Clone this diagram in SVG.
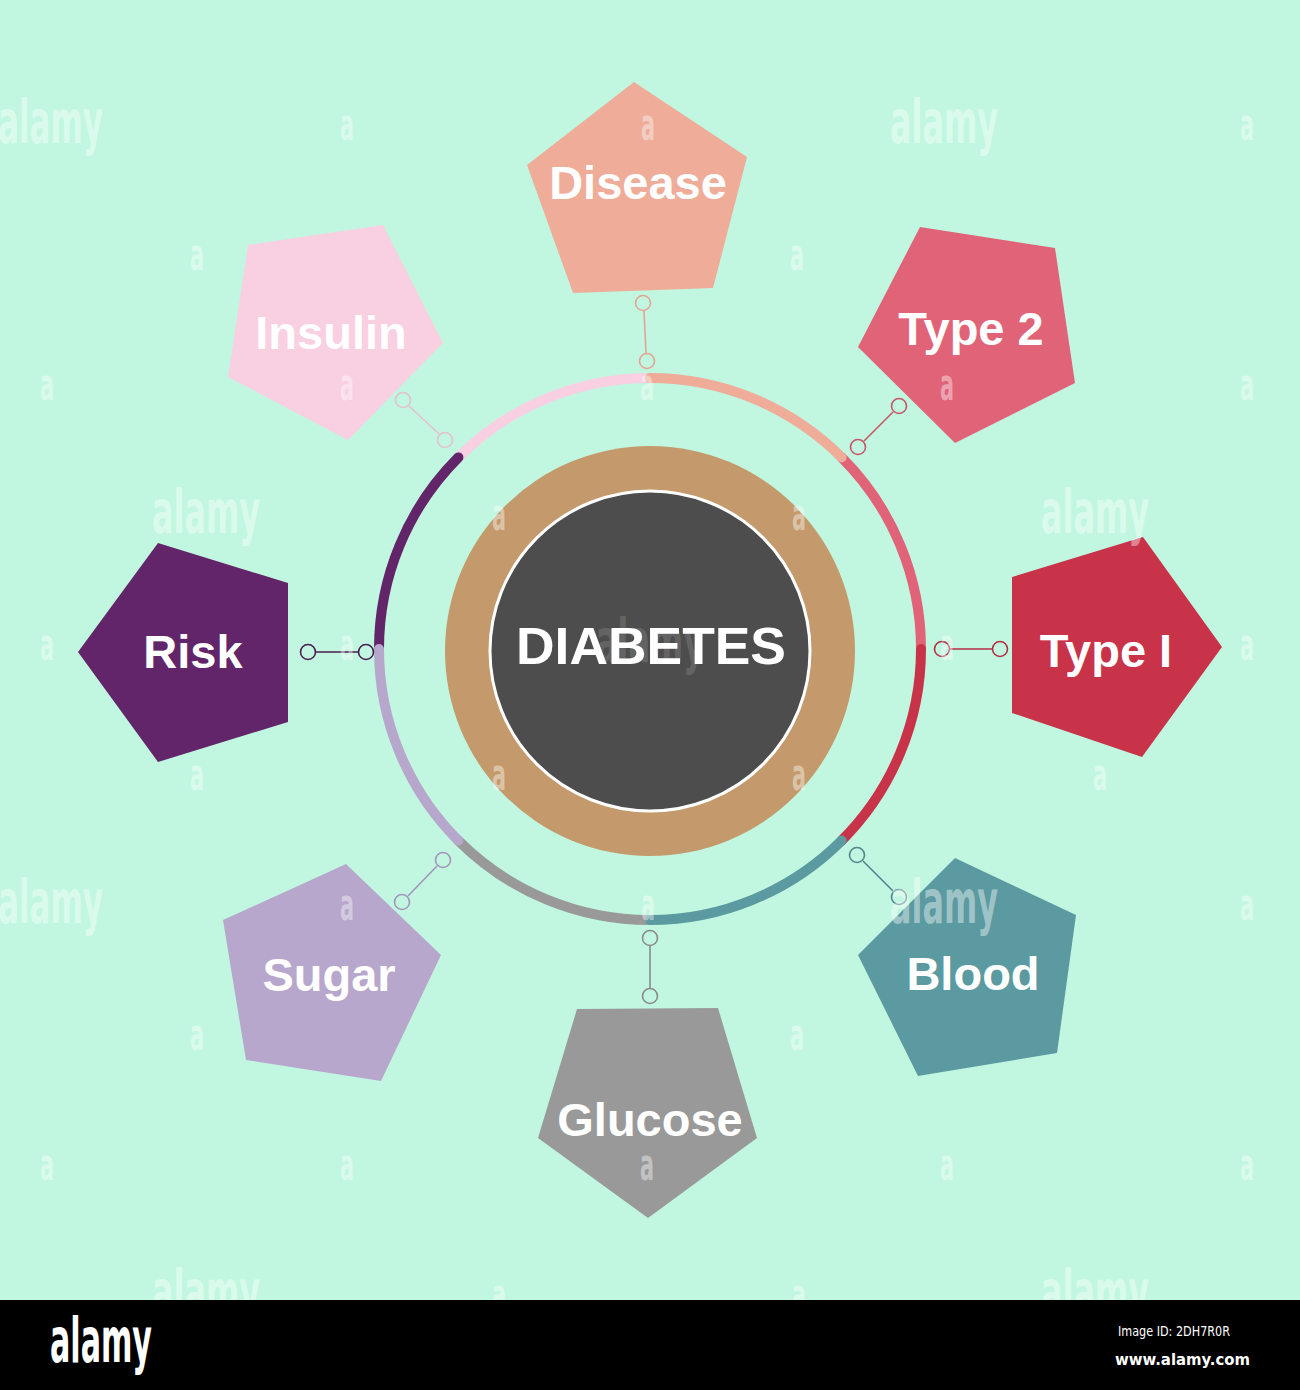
<svg xmlns="http://www.w3.org/2000/svg" width="1300" height="1390" viewBox="0 0 1300 1390">
<style>
.lbl{font-family:"Liberation Sans",Arial,sans-serif;font-weight:bold;font-size:47px;fill:#ffffff;text-anchor:middle}
.seg{fill:none;stroke-width:10;stroke-linecap:round}
.con{fill:none;stroke-width:1.6}
.wm{font-family:"Liberation Sans Narrow","DejaVu Sans Condensed",sans-serif;font-weight:bold;fill:#ffffff;fill-opacity:0.42}
.wb{font-size:60px}
.wa{font-size:44px}
</style>
<defs>
<clipPath id="top"><rect x="0" y="0" width="1300" height="1300"/></clipPath>
</defs>
<rect x="0" y="0" width="1300" height="1300" fill="#c1f7e0"/>

<g id="hub">
<circle cx="650" cy="651" r="205" fill="#c49a6c"/>
<circle cx="650" cy="651" r="160" fill="#4d4d4d" stroke="#ffffff" stroke-width="3"/>
<text x="651" y="664" font-family="Liberation Sans,Arial,sans-serif" font-weight="bold" font-size="51" fill="#ffffff" text-anchor="middle" textLength="270" lengthAdjust="spacingAndGlyphs">DIABETES</text>
</g>

<g id="ring">
<path class="seg" stroke="#f9d0e2" d="M458.4 457.4 A271 271 0 0 1 650 378"/>
<path class="seg" stroke="#e06377" d="M841.6 457.4 A271 271 0 0 1 921 649"/>
<path class="seg" stroke="#eeac99" d="M650 378 A271 271 0 0 1 841.6 457.4"/>
<path class="seg" stroke="#c83349" d="M921 649 A271 271 0 0 1 841.6 840.6"/>
<path class="seg" stroke="#999999" d="M650 920 A271 271 0 0 1 458.4 840.6"/>
<path class="seg" stroke="#5b9aa0" d="M841.6 840.6 A271 271 0 0 1 650 920"/>
<path class="seg" stroke="#622569" stroke-width="11" d="M379 649 A271 271 0 0 1 458.4 457.4"/>
<path class="seg" stroke="#b7a7cc" d="M458.4 840.6 A271 271 0 0 1 379 649"/>
</g>

<g id="connectors">
<g stroke="#e3a593" class="con"><line x1="644" y1="311" x2="646" y2="353"/><circle cx="643" cy="303" r="7.5"/><circle cx="647" cy="361" r="7.5"/></g>
<g stroke="#c85468" class="con"><line x1="893" y1="412" x2="864" y2="441"/><circle cx="899" cy="406" r="7.5"/><circle cx="858" cy="447" r="7.5"/></g>
<g stroke="#b52e42" class="con"><line x1="950" y1="649" x2="992" y2="649"/><circle cx="942" cy="649" r="7.5"/><circle cx="1000" cy="649" r="7.5"/></g>
<g stroke="#4f858b" class="con"><line x1="863" y1="861" x2="893" y2="891"/><circle cx="857" cy="855" r="7.5"/><circle cx="899" cy="897" r="7.5"/></g>
<g stroke="#8a8a8a" class="con"><line x1="650" y1="946" x2="650" y2="988"/><circle cx="650" cy="938" r="7.5"/><circle cx="650" cy="996" r="7.5"/></g>
<g stroke="#a395bb" class="con"><line x1="437" y1="866" x2="408" y2="896"/><circle cx="443" cy="860" r="7.5"/><circle cx="402" cy="902" r="7.5"/></g>
<g stroke="#4a1d50" class="con"><line x1="316" y1="652" x2="358" y2="652"/><circle cx="308" cy="652" r="7.5"/><circle cx="366" cy="652" r="7.5"/></g>
<g stroke="#e6bfcd" class="con"><line x1="409" y1="406" x2="439" y2="434"/><circle cx="403" cy="400" r="7.5"/><circle cx="445" cy="440" r="7.5"/></g>
</g>

<g id="node-disease"><polygon points="634,82 747,157 713,288 573,293 527,165" fill="#eeac99"/><text class="lbl" x="638" y="199">Disease</text></g>
<g id="node-type2"><polygon points="920,227 1055,248 1075,383 955,443 858,347" fill="#e06377"/><text class="lbl" x="971" y="345">Type 2</text></g>
<g id="node-type1"><polygon points="1012,577 1143,537 1222,647 1142,757 1012,713" fill="#c83349"/><text class="lbl" x="1106" y="667">Type I</text></g>
<g id="node-blood"><polygon points="955,858 1076,915 1057,1053 918,1076 858,955" fill="#5b9aa0"/><text class="lbl" x="973" y="990">Blood</text></g>
<g id="node-glucose"><polygon points="577,1009 718,1008 757,1138 648,1218 538,1138" fill="#999999"/><text class="lbl" x="650" y="1136">Glucose</text></g>
<g id="node-sugar"><polygon points="346,864 441,955 381,1081 246,1060 223,920" fill="#b7a7cc"/><text class="lbl" x="329" y="991">Sugar</text></g>
<g id="node-risk"><polygon points="158,543 288,583 288,722 158,762 78,652" fill="#622569"/><text class="lbl" x="193" y="668">Risk</text></g>
<g id="node-insulin"><polygon points="248,245 383,225 443,343 348,440 228,377" fill="#f9d0e2"/><text class="lbl" x="331" y="349">Insulin</text></g>

<g id="watermark" class="wm" clip-path="url(#top)">
<text class="wb" x="-2" y="143" textLength="105" lengthAdjust="spacingAndGlyphs">alamy</text>
<text class="wb" x="890" y="143" textLength="108" lengthAdjust="spacingAndGlyphs">alamy</text>
<text class="wb" x="152" y="533" textLength="108" lengthAdjust="spacingAndGlyphs">alamy</text>
<text class="wb" x="1041" y="533" textLength="108" lengthAdjust="spacingAndGlyphs">alamy</text>
<text class="wb" x="596" y="662" textLength="108" lengthAdjust="spacingAndGlyphs" fill-opacity="0.15">alamy</text>
<text class="wb" x="-2" y="923" textLength="105" lengthAdjust="spacingAndGlyphs">alamy</text>
<text class="wb" x="890" y="923" textLength="108" lengthAdjust="spacingAndGlyphs">alamy</text>
<text class="wb" x="152" y="1313" textLength="108" lengthAdjust="spacingAndGlyphs">alamy</text>
<text class="wb" x="1041" y="1313" textLength="108" lengthAdjust="spacingAndGlyphs">alamy</text>
<g class="wa">
<text x="340" y="140" textLength="14" lengthAdjust="spacingAndGlyphs">a</text>
<text x="641" y="140" textLength="14" lengthAdjust="spacingAndGlyphs">a</text>
<text x="1240" y="140" textLength="14" lengthAdjust="spacingAndGlyphs">a</text>
<text x="190" y="270" textLength="14" lengthAdjust="spacingAndGlyphs">a</text>
<text x="790" y="270" textLength="14" lengthAdjust="spacingAndGlyphs">a</text>
<text x="40" y="400" textLength="14" lengthAdjust="spacingAndGlyphs">a</text>
<text x="340" y="400" textLength="14" lengthAdjust="spacingAndGlyphs">a</text>
<text x="640" y="400" textLength="14" lengthAdjust="spacingAndGlyphs">a</text>
<text x="940" y="400" textLength="14" lengthAdjust="spacingAndGlyphs">a</text>
<text x="1240" y="400" textLength="14" lengthAdjust="spacingAndGlyphs">a</text>
<text x="492" y="530" textLength="14" lengthAdjust="spacingAndGlyphs">a</text>
<text x="792" y="530" textLength="14" lengthAdjust="spacingAndGlyphs">a</text>
<text x="40" y="660" textLength="14" lengthAdjust="spacingAndGlyphs">a</text>
<text x="340" y="660" textLength="14" lengthAdjust="spacingAndGlyphs">a</text>
<text x="940" y="660" textLength="14" lengthAdjust="spacingAndGlyphs">a</text>
<text x="1240" y="660" textLength="14" lengthAdjust="spacingAndGlyphs">a</text>
<text x="190" y="790" textLength="14" lengthAdjust="spacingAndGlyphs">a</text>
<text x="492" y="790" textLength="14" lengthAdjust="spacingAndGlyphs">a</text>
<text x="792" y="790" textLength="14" lengthAdjust="spacingAndGlyphs">a</text>
<text x="1093" y="790" textLength="14" lengthAdjust="spacingAndGlyphs">a</text>
<text x="340" y="920" textLength="14" lengthAdjust="spacingAndGlyphs">a</text>
<text x="641" y="920" textLength="14" lengthAdjust="spacingAndGlyphs">a</text>
<text x="1240" y="920" textLength="14" lengthAdjust="spacingAndGlyphs">a</text>
<text x="190" y="1050" textLength="14" lengthAdjust="spacingAndGlyphs">a</text>
<text x="790" y="1050" textLength="14" lengthAdjust="spacingAndGlyphs">a</text>
<text x="40" y="1180" textLength="14" lengthAdjust="spacingAndGlyphs">a</text>
<text x="340" y="1180" textLength="14" lengthAdjust="spacingAndGlyphs">a</text>
<text x="640" y="1180" textLength="14" lengthAdjust="spacingAndGlyphs">a</text>
<text x="940" y="1180" textLength="14" lengthAdjust="spacingAndGlyphs">a</text>
<text x="1240" y="1180" textLength="14" lengthAdjust="spacingAndGlyphs">a</text>
<text x="492" y="1310" textLength="14" lengthAdjust="spacingAndGlyphs">a</text>
<text x="792" y="1310" textLength="14" lengthAdjust="spacingAndGlyphs">a</text>
</g>
</g>

<g id="footer">
<rect x="0" y="1300" width="1300" height="90" fill="#000000"/>
<text x="50" y="1362" font-family="Liberation Sans Narrow,DejaVu Sans Condensed,sans-serif" font-weight="bold" font-size="62" fill="#ffffff" textLength="102" lengthAdjust="spacingAndGlyphs">alamy</text>
<text x="1118" y="1336" font-family="DejaVu Sans Condensed,Liberation Sans Narrow,sans-serif" font-size="14" fill="#ffffff" textLength="112" lengthAdjust="spacingAndGlyphs">Image ID: 2DH7R0R</text>
<text x="1115" y="1365" font-family="DejaVu Sans Condensed,Liberation Sans Narrow,sans-serif" font-weight="bold" font-size="16" fill="#ffffff" textLength="135" lengthAdjust="spacingAndGlyphs">www.alamy.com</text>
</g>
</svg>
